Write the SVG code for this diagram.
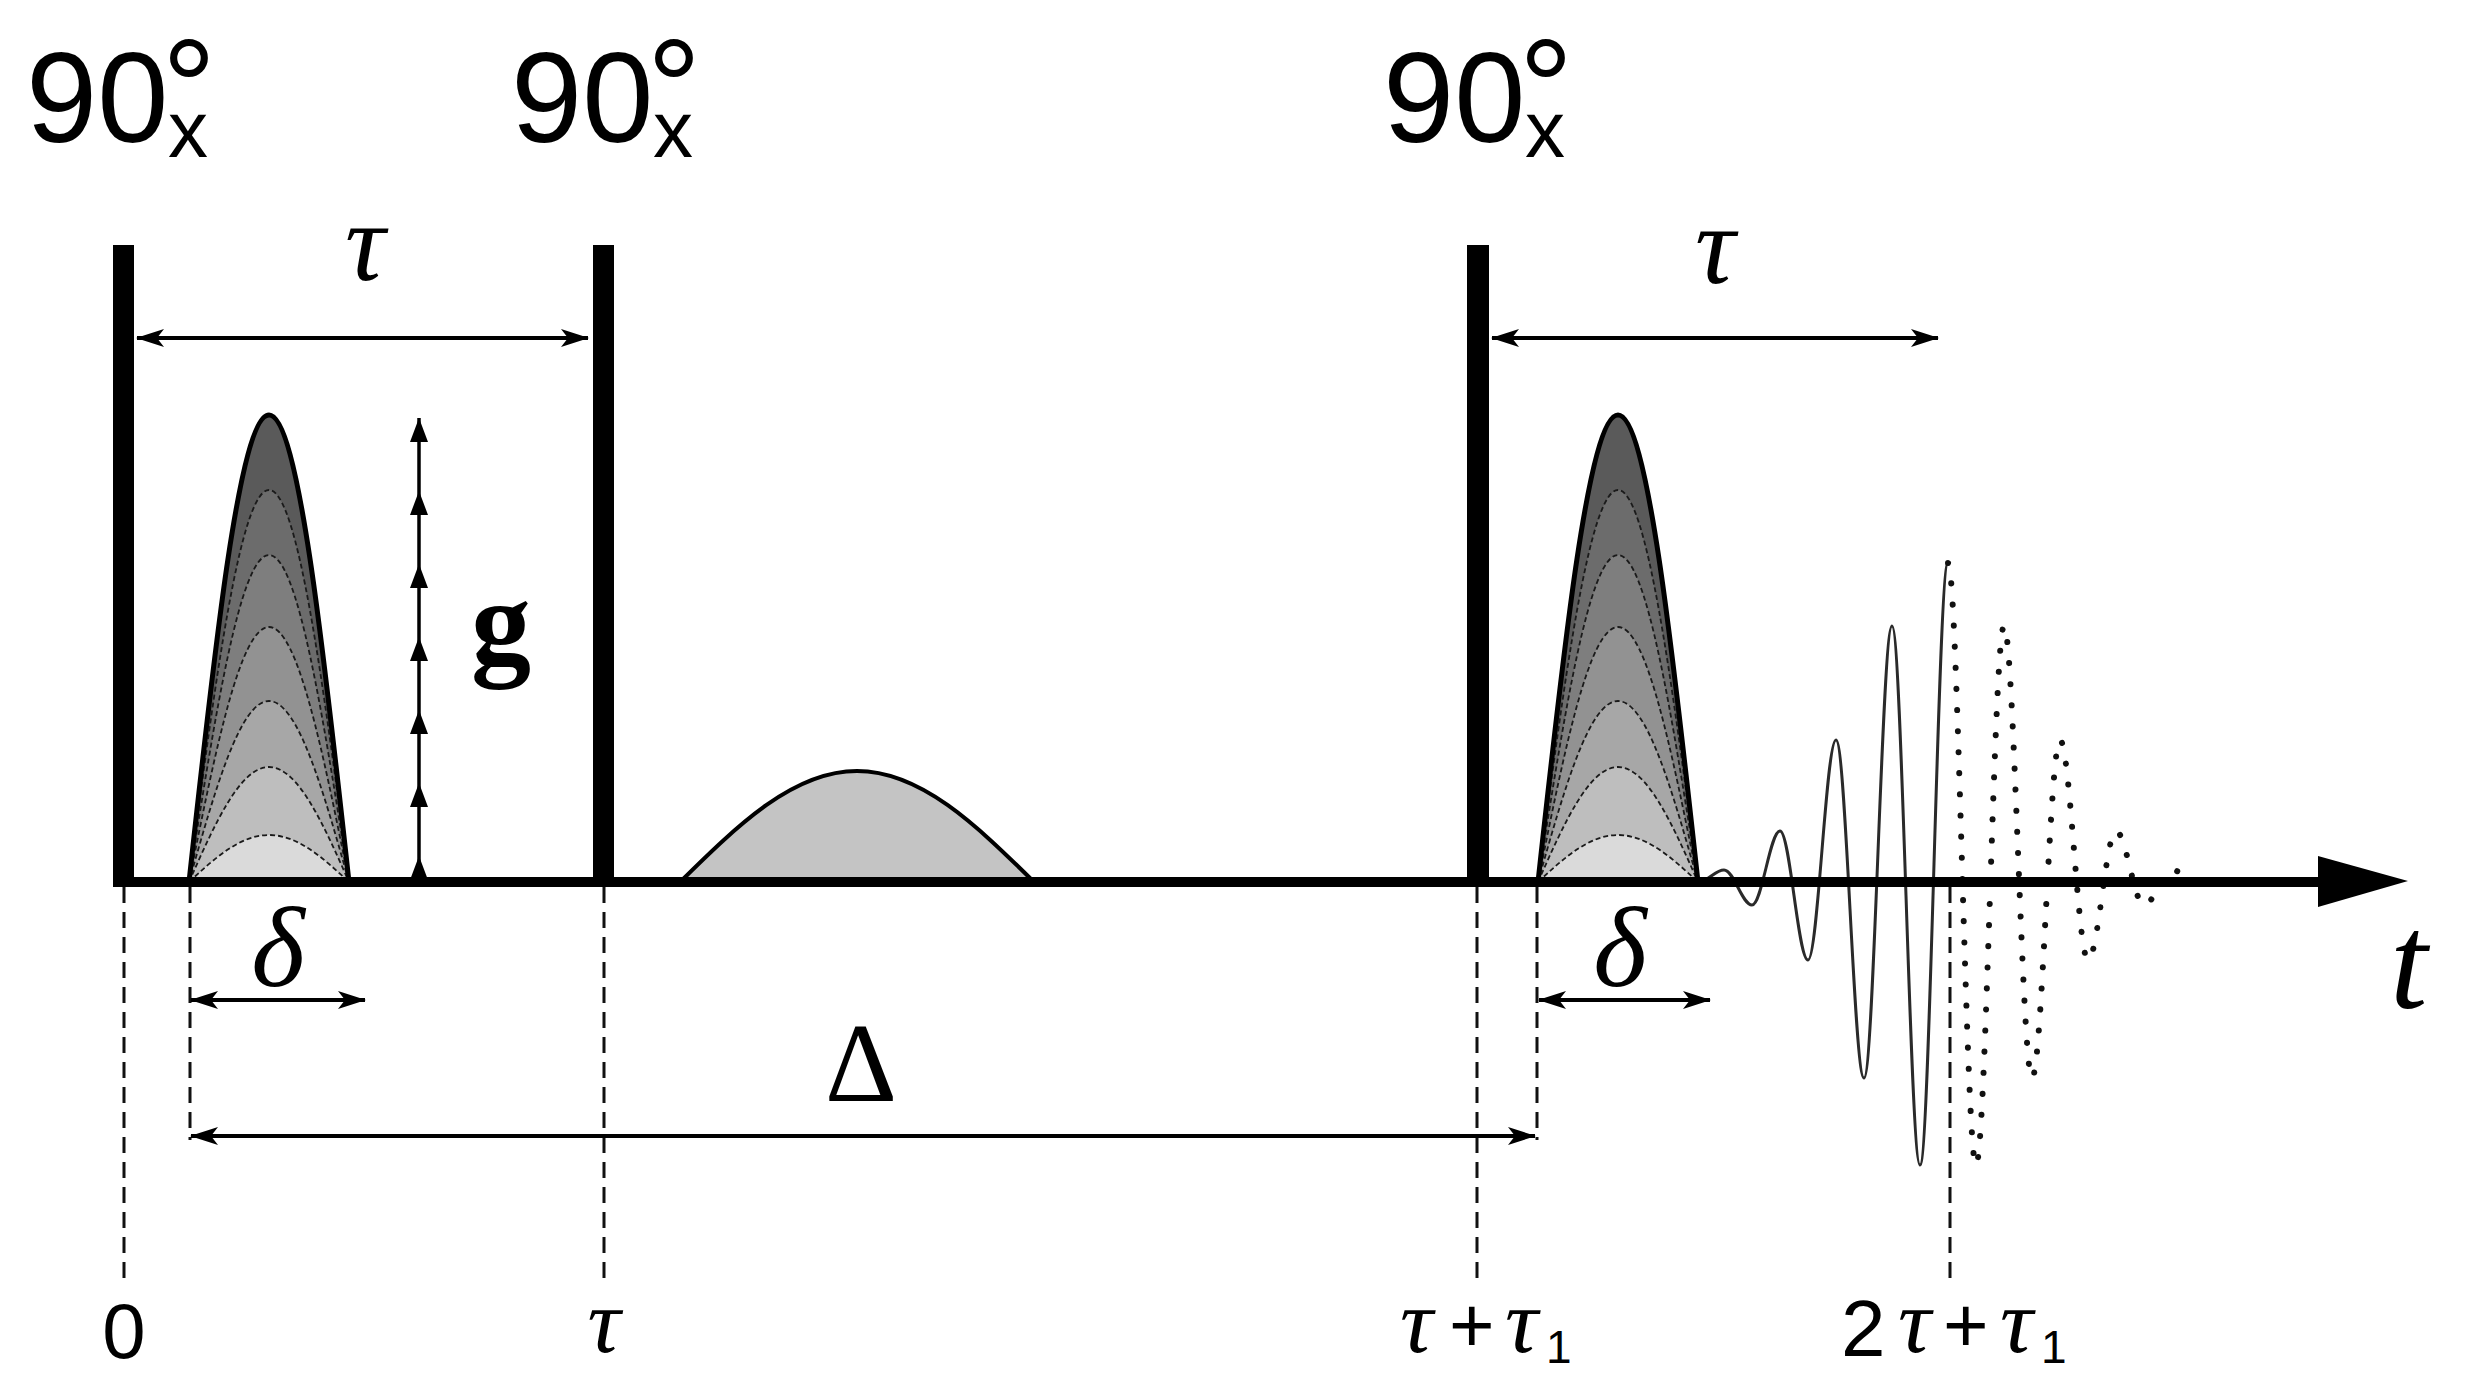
<svg xmlns="http://www.w3.org/2000/svg" xmlns:xlink="http://www.w3.org/1999/xlink" width="2468" height="1396" viewBox="0 0 2468 1396">
<style>
.sans{font-family:"Liberation Sans",Arial,sans-serif;fill:#000}
.it{font-family:"Liberation Serif","Times New Roman",serif;font-style:italic;fill:#000}
.rm{font-family:"Liberation Serif","Times New Roman",serif;fill:#000}
.bar{fill:#000}
.dash{stroke:#111;stroke-width:3;stroke-dasharray:16 9;fill:none}
.dim{stroke:#000;stroke-width:4;fill:none;marker-start:url(#ah);marker-end:url(#ah)}
.lay{stroke:#1a1a1a;stroke-width:1.8;stroke-dasharray:5 3}
.outer{stroke:#000;stroke-width:5;fill:none}
</style>
<defs>
<g id="lobeShape">
<path class="lay" fill="#5a5a5a" d="M189,882 C215.1,642.8 240.2,415 269,415 C297.8,415 322.9,642.8 349,882 Z"/>
<path class="lay" fill="#6c6c6c" d="M189,882 C215.1,681.2 240.2,490 269,490 C297.8,490 322.9,681.2 349,882 Z"/>
<path class="lay" fill="#7e7e7e" d="M189,882 C215.1,714.5 240.2,555 269,555 C297.8,555 322.9,714.5 349,882 Z"/>
<path class="lay" fill="#929292" d="M189,882 C215.1,751.4 240.2,627 269,627 C297.8,627 322.9,751.4 349,882 Z"/>
<path class="lay" fill="#a7a7a7" d="M189,882 C215.1,789.3 240.2,701 269,701 C297.8,701 322.9,789.3 349,882 Z"/>
<path class="lay" fill="#bebebe" d="M189,882 C215.1,823.1 240.2,767 269,767 C297.8,767 322.9,823.1 349,882 Z"/>
<path class="lay" fill="#dadada" d="M189,882 C215.1,857.9 240.2,835 269,835 C297.8,835 322.9,857.9 349,882 Z"/>
<path class="outer" d="M189,882 C215.1,642.8 240.2,415 269,415 C297.8,415 322.9,642.8 349,882"/>
</g>
<marker id="ah" viewBox="0 0 28 20" refX="27" refY="10" markerWidth="28" markerHeight="20" markerUnits="userSpaceOnUse" orient="auto-start-reverse">
<path d="M0,1 L28,10 L0,19 L7,10 Z" fill="#000"/>
</marker>
<marker id="gh" viewBox="0 0 24 18" refX="24" refY="9" markerWidth="24" markerHeight="18" markerUnits="userSpaceOnUse" orient="auto">
<path d="M0,0 L24,9 L0,18 Z" fill="#000"/>
</marker>
</defs>
<rect width="2468" height="1396" fill="#fff"/>

<g id="pulse-labels">
<g id="label1">
<text class="sans" x="26" y="142" font-size="128">90</text>
<text class="sans" x="162" y="134" font-size="135">°</text>
<text class="sans" x="168" y="157" font-size="80">x</text>
</g>
<g id="label2">
<text class="sans" x="511" y="142" font-size="128">90</text>
<text class="sans" x="647" y="134" font-size="135">°</text>
<text class="sans" x="653" y="157" font-size="80">x</text>
</g>
<g id="label3">
<text class="sans" x="1383" y="142" font-size="128">90</text>
<text class="sans" x="1519" y="134" font-size="135">°</text>
<text class="sans" x="1525" y="157" font-size="80">x</text>
</g>
</g>

<g id="pulse1"><rect class="bar" x="113" y="245" width="21" height="640"/></g>
<g id="pulse2"><rect class="bar" x="593" y="245" width="21" height="640"/></g>
<g id="pulse3"><rect class="bar" x="1467" y="245" width="22" height="640"/></g>

<g id="gradient1"><use href="#lobeShape"/></g>
<g id="gradient2"><use href="#lobeShape" x="1349"/></g>

<g id="homospoil">
<path d="M680,882 C737.7,825.1 793.2,771 857,771 C920.8,771 976.3,825.1 1034,882 Z" fill="#c4c4c4" stroke="#000" stroke-width="4"/>
</g>

<g id="fid">
<path d="M1700,881 C1709,881 1715,870 1724,870 C1734,870 1742,905 1752,905 C1762,905 1770,831 1780,831 C1790,831 1798,960 1808,960 C1818,960 1826,740 1836,740 C1846,740 1854,1078 1864,1078 C1874,1078 1882,626 1892,626 C1902,626 1910,1165 1920,1165 C1930,1165 1938,563 1948,563" fill="none" stroke="#2a2a2a" stroke-width="3"/>
<path d="M1948,563 C1958,563 1966,1165 1976,1165 C1986,1165 1994,626 2004,626 C2014,626 2022,1078 2032,1078 C2042,1078 2050,740 2060,740 C2070,740 2078,960 2088,960 C2098,960 2106,831 2116,831 C2126,831 2134,905 2144,905 C2154,905 2162,870 2172,870 C2181,870 2187,881 2196,881" fill="none" stroke="#111" stroke-width="6" stroke-linecap="round" stroke-dasharray="0.1 21"/>
</g>

<g id="axis">
<line x1="113" y1="882" x2="2330" y2="882" stroke="#000" stroke-width="10"/>
<path d="M2318,856 L2408,881 L2318,907 Z" fill="#000"/>
<text class="it" x="2390" y="1008" font-size="135">t</text>
</g>

<g id="g-vector">
<polyline points="419,882 419,856 419,783 419,710 419,637 419,564 419,491 419,418" fill="none" stroke="#000" stroke-width="3.5" marker-mid="url(#gh)" marker-end="url(#gh)"/>
<text class="rm" x="471" y="663" font-size="120" font-weight="bold">g</text>
</g>

<g id="connectors">
<line class="dash" x1="124" y1="887" x2="124" y2="1280"/>
<line class="dash" x1="190" y1="887" x2="190" y2="1140"/>
<line class="dash" x1="604" y1="887" x2="604" y2="1280"/>
<line class="dash" x1="1477" y1="887" x2="1477" y2="1280"/>
<line class="dash" x1="1537" y1="887" x2="1537" y2="1140"/>
<line class="dash" x1="1950" y1="887" x2="1950" y2="1280"/>
<line class="dim" x1="137" y1="338" x2="588" y2="338"/>
<line class="dim" x1="1492" y1="338" x2="1938" y2="338"/>
<line class="dim" x1="191" y1="1000" x2="365" y2="1000"/>
<line class="dim" x1="1539" y1="1000" x2="1710" y2="1000"/>
<line class="dim" x1="191" y1="1136" x2="1535" y2="1136"/>
</g>

<g id="dim-labels">
<text class="it" x="365" y="280" font-size="112" text-anchor="middle">τ</text>
<text class="it" x="1715" y="283" font-size="112" text-anchor="middle">τ</text>
<text class="it" x="278" y="986" font-size="115" text-anchor="middle">δ</text>
<text class="it" x="1620" y="986" font-size="115" text-anchor="middle">δ</text>
<text class="rm" x="861" y="1101" font-size="112" text-anchor="middle">Δ</text>
</g>

<g id="time-labels">
<text class="sans" x="124" y="1358" font-size="78" text-anchor="middle">0</text>
<text class="it" x="604" y="1352" font-size="92" text-anchor="middle">τ</text>
<text class="it" x="1400" y="1352" font-size="92">τ</text>
<text class="sans" x="1449" y="1352" font-size="78">+</text>
<text class="it" x="1505" y="1352" font-size="92">τ</text>
<text class="sans" x="1546" y="1363" font-size="46">1</text>
<text class="sans" x="1841" y="1356" font-size="80">2</text>
<text class="it" x="1898" y="1352" font-size="92">τ</text>
<text class="sans" x="1943" y="1352" font-size="78">+</text>
<text class="it" x="2000" y="1352" font-size="92">τ</text>
<text class="sans" x="2041" y="1363" font-size="46">1</text>
</g>
</svg>
